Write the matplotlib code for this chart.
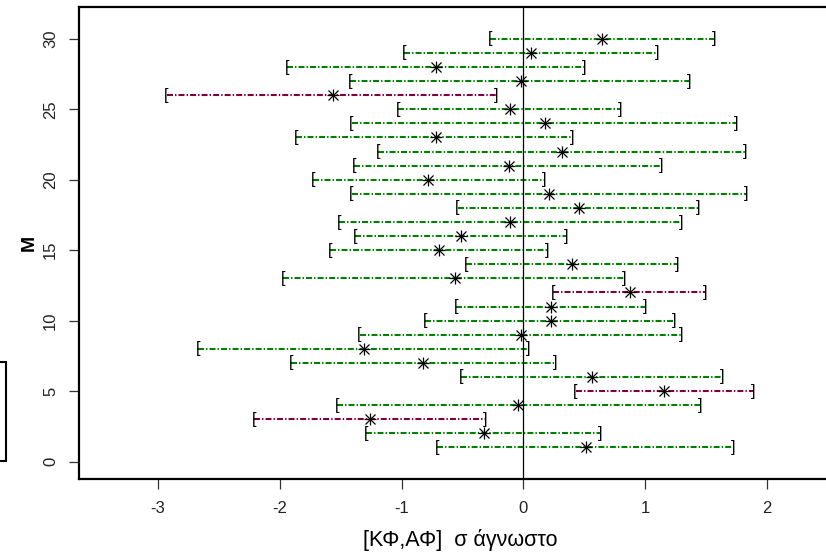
import numpy as np
import matplotlib
matplotlib.use('Agg')
import matplotlib.pyplot as plt
from matplotlib.patches import Rectangle

plt.rcParams['font.family'] = ['Liberation Sans', 'DejaVu Sans']
plt.rcParams['lines.scale_dashes'] = False

# intervals, M = 1..30
M = np.arange(1, 31)
lower = [-0.71, -1.29, -2.21, -1.53, 0.43, -0.51, -1.91, -2.675, -1.345, -0.81,
         -0.555, 0.245, -1.97, -0.47, -1.59, -1.38, -1.515, -0.54, -1.41, -1.73,
         -1.39, -1.19, -1.87, -1.41, -1.03, -2.93, -1.42, -1.94, -0.98, -0.27]
point = [0.515, -0.325, -1.26, -0.04, 1.16, 0.565, -0.82, -1.31, -0.02, 0.225,
         0.23, 0.875, -0.56, 0.40, -0.69, -0.51, -0.105, 0.455, 0.21, -0.78,
         -0.12, 0.315, -0.72, 0.18, -0.11, -1.56, -0.02, -0.72, 0.06, 0.65]
upper = [1.725, 0.63, -0.31, 1.457, 1.89, 1.635, 0.26, 0.04, 1.30, 1.24,
         1.005, 1.495, 0.83, 1.265, 0.20, 0.35, 1.30, 1.435, 1.83, 0.17,
         1.13, 1.82, 0.405, 1.75, 0.80, -0.225, 1.36, 0.50, 1.10, 1.57]
# intervals that miss zero are drawn in purple
misses = [(lo > 0) or (hi < 0) for lo, hi in zip(lower, upper)]

green = '#008000'
purple = '#80003f'

fig = plt.figure(figsize=(8.26, 5.54), dpi=100)
# the plot box runs slightly past the right edge, as in the original screenshot
ax = fig.add_axes([0.0956, 0.1354, 0.9225, 0.8514])

for m, lo, pt, hi, bad in zip(M, lower, point, upper, misses):
    col = purple if bad else green
    ax.plot([lo, hi], [m, m], color=col, lw=1.5, linestyle=(0, (4.3, 1.5, 1.0, 1.5)))
    ax.text(lo, m, '[', ha='center', va='center', fontsize=12, color='black')
    ax.text(hi, m, ']', ha='center', va='center', fontsize=12, color='black')

# asterisk markers (plus + cross)
ax.plot(point, M, linestyle='none', marker='+', ms=8.5, mew=0.9, color='black')
ax.plot(point, M, linestyle='none', marker='x', ms=6.5, mew=0.9, color='black')

ax.axvline(0, color='black', lw=0.9)

ax.set_xlim(-3.65, 2.61)
ax.set_ylim(-1.24, 32.24)
ax.set_xticks([-3, -2, -1, 0, 1, 2])
ax.set_xticklabels(['-3', '-2', '-1', '0', '1', '2'])
ax.set_yticks([0, 5, 10, 15, 20, 25, 30])
for lab in ax.get_yticklabels():
    lab.set_rotation(90)
    lab.set_va('center')
ax.tick_params(axis='both', length=7, width=0.9, labelsize=12, color='#333333', labelcolor='#222222')
ax.tick_params(axis='x', pad=9)
ax.tick_params(axis='y', pad=8)
for s in ax.spines.values():
    s.set_linewidth(1.6)

ax.set_xlabel('[ΚΦ,ΑΦ]  σ άγνωστο', fontsize=15.5, labelpad=9)
ax.set_ylabel('M', fontsize=14, fontweight='bold', labelpad=4)

# cut-off legend frame on the left edge
fig.patches.append(Rectangle((-0.01, 1 - 461 / 554), 0.0175, 99 / 554,
                             transform=fig.transFigure, fill=False,
                             edgecolor='black', lw=1.5))

fig.savefig('out.png', dpi=100)
